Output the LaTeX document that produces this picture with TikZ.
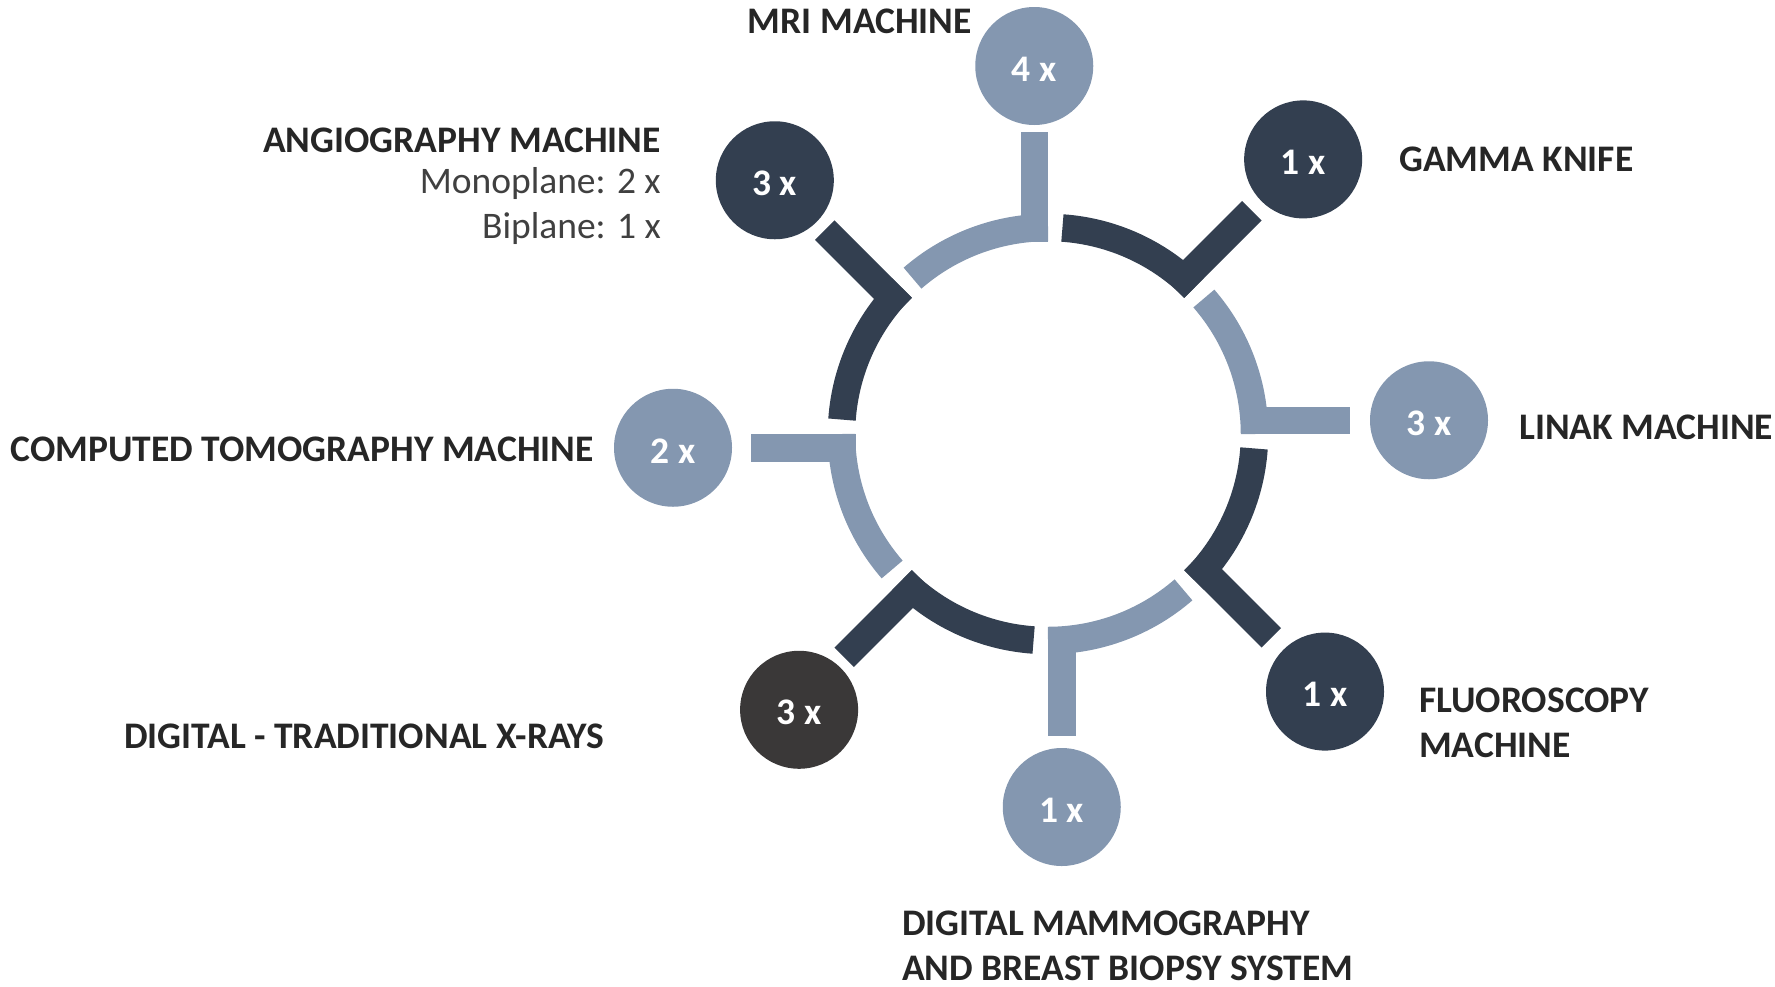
\documentclass[tikz,border=0pt]{standalone}
\usepackage{fontspec}
\setmainfont{Carlito}
\usetikzlibrary{calc}
\definecolor{lightseg}{HTML}{8497B0}
\definecolor{darkseg}{HTML}{333F50}
\definecolor{xraycol}{HTML}{3A3838}
\definecolor{titlec}{HTML}{262626}
\definecolor{subc}{HTML}{404040}
\begin{document}
\begin{tikzpicture}[x=1pt,y=1pt,
  ring/.style={line width=27.5pt},
  bubble/.style={circle, minimum size=118pt, inner sep=0pt},
  bubtext/.style={text=white, font=\fontsize{37.5}{44}\selectfont\bfseries, inner sep=0pt},
  title/.style={text=titlec, font=\fontsize{37.5}{45}\selectfont\bfseries, inner sep=0pt},
  sub/.style={text=subc, font=\fontsize{37.5}{45}\selectfont, inner sep=0pt}]
\path[use as bounding box] (0,0) rectangle (1775,-986);
\coordinate (C) at (1048,-434);
\foreach \s/\col/\cc/\d/\p/\e/\lab/\nm in {
  90/lightseg/lightseg/368/13.75/302/4 x/mri,
  45/darkseg/darkseg/374.6/13.75/302/1 x/gamma,
  0/lightseg/lightseg/381/13.75/302/3 x/linak,
  -45/darkseg/darkseg/378/13.75/302/1 x/fluoro,
  -90/lightseg/lightseg/373/13.75/302/1 x/mammo,
  -135/darkseg/xraycol/371/19/302/3 x/xray,
  180/lightseg/lightseg/375/13.75/297/2 x/ct,
  135/darkseg/darkseg/372.6/13.75/302/3 x/angio}{
  \draw[ring, draw=\col] ($(C)+(\s:206.5)$) arc[start angle=\s, end angle=\s+41, radius=206.5];
  \coordinate (\nm-in) at ($(C)+(\s:192.5)+({\s+90}:13.75)$);
  \coordinate (\nm-out) at ($(C)+(\s:\e)+({\s+90}:13.75)$);
  \draw[ring, draw=\col] (\nm-in) -- (\nm-out);
  \node[bubble, fill=\cc] (\nm) at ($(C)+(\s:\d)+({\s+90}:\p)$) {};
  \node[bubtext, yshift=-3pt] (\nm-lab) at (\nm) {\lab};
}
\node[title, anchor=base east] (mriT) at (972,-33) {MRI MACHINE};
\node[title, anchor=base east] (angT) at (661,-152) {ANGIOGRAPHY MACHINE};
\node[sub, anchor=base east] (angS1) at (661,-193) {Monoplane: 2 x};
\node[sub, anchor=base east] (angS2) at (661,-238) {Biplane: 1 x};
\node[title, anchor=base east] (ctT) at (594,-461) {COMPUTED TOMOGRAPHY MACHINE};
\node[title, anchor=base west] (xrT) at (124,-748) {DIGITAL - TRADITIONAL X-RAYS};
\node[title, anchor=base west] (mamT1) at (902,-935) {DIGITAL MAMMOGRAPHY};
\node[title, anchor=base west] (mamT2) at (902,-980) {AND BREAST BIOPSY SYSTEM};
\node[title, anchor=base west] (fluT1) at (1419,-712.7) {FLUOROSCOPY};
\node[title, anchor=base west] (fluT2) at (1419,-757.7) {MACHINE};
\node[title, anchor=base west] (linT) at (1519,-439) {LINAK MACHINE};
\node[title, anchor=base west] (gamT) at (1399,-171.7) {GAMMA KNIFE};
\end{tikzpicture}
\end{document}
